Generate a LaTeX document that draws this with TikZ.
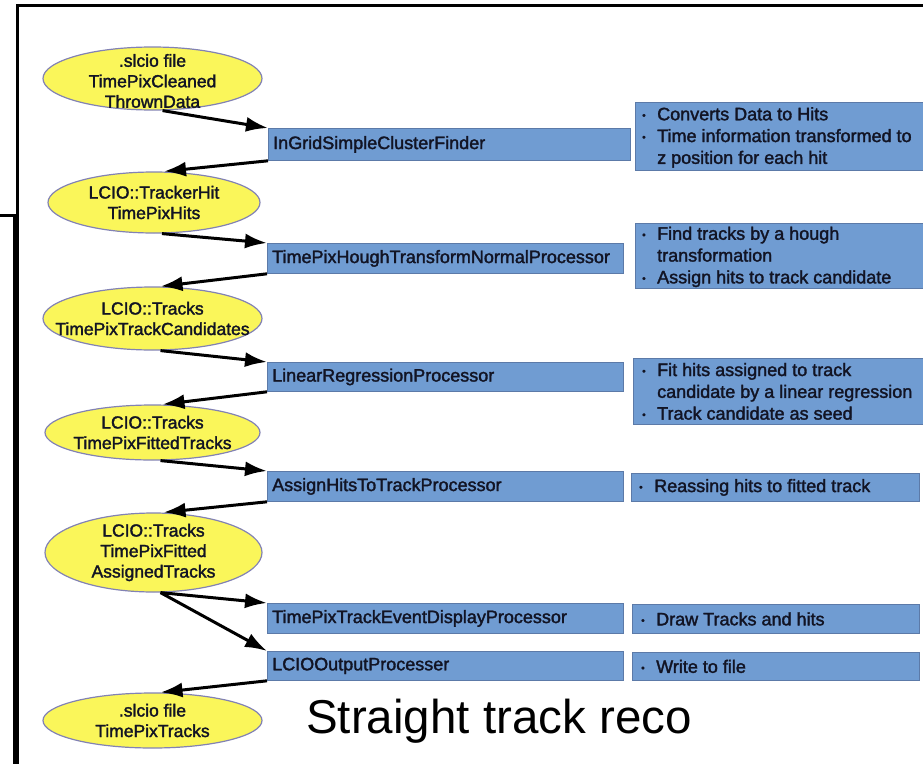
\documentclass[tikz,border=0pt]{standalone}
\usepackage{fontspec}
\setmainfont{Liberation Sans}
\newfontfamily\medfont[FakeBold=1.8]{Liberation Sans}
\usetikzlibrary{shapes.geometric,arrows.meta}
\definecolor{ellfill}{RGB}{250,246,90}
\definecolor{elledge}{RGB}{130,130,180}
\definecolor{boxfill}{RGB}{112,156,210}
\definecolor{boxedge}{RGB}{92,122,168}
\definecolor{txt}{RGB}{18,20,36}
\newcommand\bul{\makebox[15pt][l]{\raisebox{1.5pt}{\fontsize{10}{10}\selectfont •}}}
\newcommand\ind{\hspace*{15pt}}
\begin{document}
\begin{tikzpicture}[x=1pt,y=-1pt,
  ell/.style={ellipse, draw=elledge, line width=1.2pt, fill=ellfill, inner sep=0pt},
  elltext/.style={align=center, font=\medfont\fontsize{17.5}{20.5}\selectfont, text=txt, inner sep=0pt},
  procbox/.style={rectangle, draw=boxedge, line width=0.8pt, fill=boxfill, anchor=north west, inner sep=0pt},
  proctext/.style={anchor=west, font=\medfont\fontsize{18}{21.5}\selectfont, text=txt, inner sep=0pt},
  desctext/.style={anchor=west, align=left, font=\medfont\fontsize{18}{21.8}\selectfont, text=txt, inner sep=0pt},
  flow/.style={line width=3pt, -{Latex[length=22pt,width=15pt]}},
  frameline/.style={line width=3pt}
]
\useasboundingbox (0,0) rectangle (923,763);
\clip (0,0) rectangle (923,763);

% frame lines
\draw[frameline] (17,770) -- (17,5) -- (930,5);
\draw[frameline] (-5,215) -- (14,215) -- (14,770);

% data ellipses
\node[ell, minimum width=219, minimum height=63] (e1) at (152.5,78.5) {};
\node[elltext] (e1t) at (152.5,81) {.slcio file\\TimePixCleaned\\ThrownData};
\node[ell, minimum width=212, minimum height=61] (e2) at (154,202.5) {};
\node[elltext] (e2t) at (e2) {LCIO::TrackerHit\\TimePixHits};
\node[ell, minimum width=219, minimum height=63] (e3) at (152.5,318.5) {};
\node[elltext] (e3t) at (e3) {LCIO::Tracks\\TimePixTrackCandidates};
\node[ell, minimum width=215, minimum height=55] (e4) at (152.5,432.5) {};
\node[elltext] (e4t) at (e4) {LCIO::Tracks\\TimePixFittedTracks};
\node[ell, minimum width=217, minimum height=79] (e5) at (153.5,552.5) {};
\node[elltext] (e5t) at (e5) {LCIO::Tracks\\TimePixFitted\\AssignedTracks};
\node[ell, minimum width=219, minimum height=55] (e6) at (152.5,720.5) {};
\node[elltext] (e6t) at (e6) {.slcio file\\TimePixTracks};

% processor boxes
\node[procbox, minimum width=362, minimum height=32] (p1) at (268,128) {};
\node[proctext] (p1t) at ([xshift=5pt]p1.west) {InGridSimpleClusterFinder};
\node[procbox, minimum width=356, minimum height=30] (p2) at (267,243) {};
\node[proctext] (p2t) at ([xshift=5pt]p2.west) {TimePixHoughTransformNormalProcessor};
\node[procbox, minimum width=356, minimum height=29] (p3) at (267,362) {};
\node[proctext] (p3t) at ([xshift=5pt]p3.west) {LinearRegressionProcessor};
\node[procbox, minimum width=356, minimum height=30] (p4) at (267,471) {};
\node[proctext] (p4t) at ([xshift=5pt]p4.west) {AssignHitsToTrackProcessor};
\node[procbox, minimum width=356, minimum height=30] (p5) at (267,603) {};
\node[proctext] (p5t) at ([xshift=5pt]p5.west) {TimePixTrackEventDisplayProcessor};
\node[procbox, minimum width=356, minimum height=29] (p6) at (267,651) {};
\node[proctext] (p6t) at ([xshift=5pt]p6.west) {LCIOOutputProcesser};

% description boxes
\node[procbox, minimum width=295, minimum height=68] (d1) at (635,102) {};
\node[desctext] (d1t) at ([xshift=7pt,yshift=-1pt]d1.west) {\bul Converts Data to Hits\\\bul Time information transformed to\\\ind z position for each hit};
\node[procbox, minimum width=295, minimum height=65] (d2) at (635,223) {};
\node[desctext] (d2t) at ([xshift=7pt,yshift=-1pt]d2.west) {\bul Find tracks by a hough\\\ind transformation\\\bul Assign hits to track candidate};
\node[procbox, minimum width=297, minimum height=66] (d3) at (633,358) {};
\node[desctext] (d3t) at ([xshift=9pt]d3.west) {\bul Fit hits assigned to track\\\ind candidate by a linear regression\\\bul Track candidate as seed};
\node[procbox, minimum width=288, minimum height=28] (d4) at (631,473) {};
\node[desctext] (d4t) at ([xshift=8pt]d4.west) {\bul Reassing hits to fitted track};
\node[procbox, minimum width=287, minimum height=29] (d5) at (632,604) {};
\node[desctext] (d5t) at ([xshift=9pt]d5.west) {\bul Draw Tracks and hits};
\node[procbox, minimum width=287, minimum height=28] (d6) at (632,652) {};
\node[desctext] (d6t) at ([xshift=9pt]d6.west) {\bul Write to file};

% title
\node[anchor=base west, inner sep=0pt, font=\fontsize{47.5}{50}\selectfont] (title) at (306,733) {Straight track reco};

% flow arrows
\draw[flow] ([xshift=10pt]e1.south) -- (p1.north west);
\draw[flow] (p1.south west) -- ([xshift=10pt]e2.north);
\draw[flow] ([xshift=8pt]e2.south) -- (p2.north west);
\draw[flow] (p2.south west) -- ([xshift=8pt]e3.north);
\draw[flow] ([xshift=8pt]e3.south) -- (p3.north west);
\draw[flow] (p3.south west) -- ([xshift=10pt]e4.north);
\draw[flow] ([xshift=8pt]e4.south) -- (p4.north west);
\draw[flow] (p4.south west) -- ([xshift=10pt]e5.north);
\draw[flow] ([xshift=7pt]e5.south) -- (p5.north west);
\draw[flow] ([xshift=7pt]e5.south) -- (p6.north west);
\draw[flow] (p6.south west) -- ([xshift=8pt]e6.north);
\end{tikzpicture}
\end{document}
